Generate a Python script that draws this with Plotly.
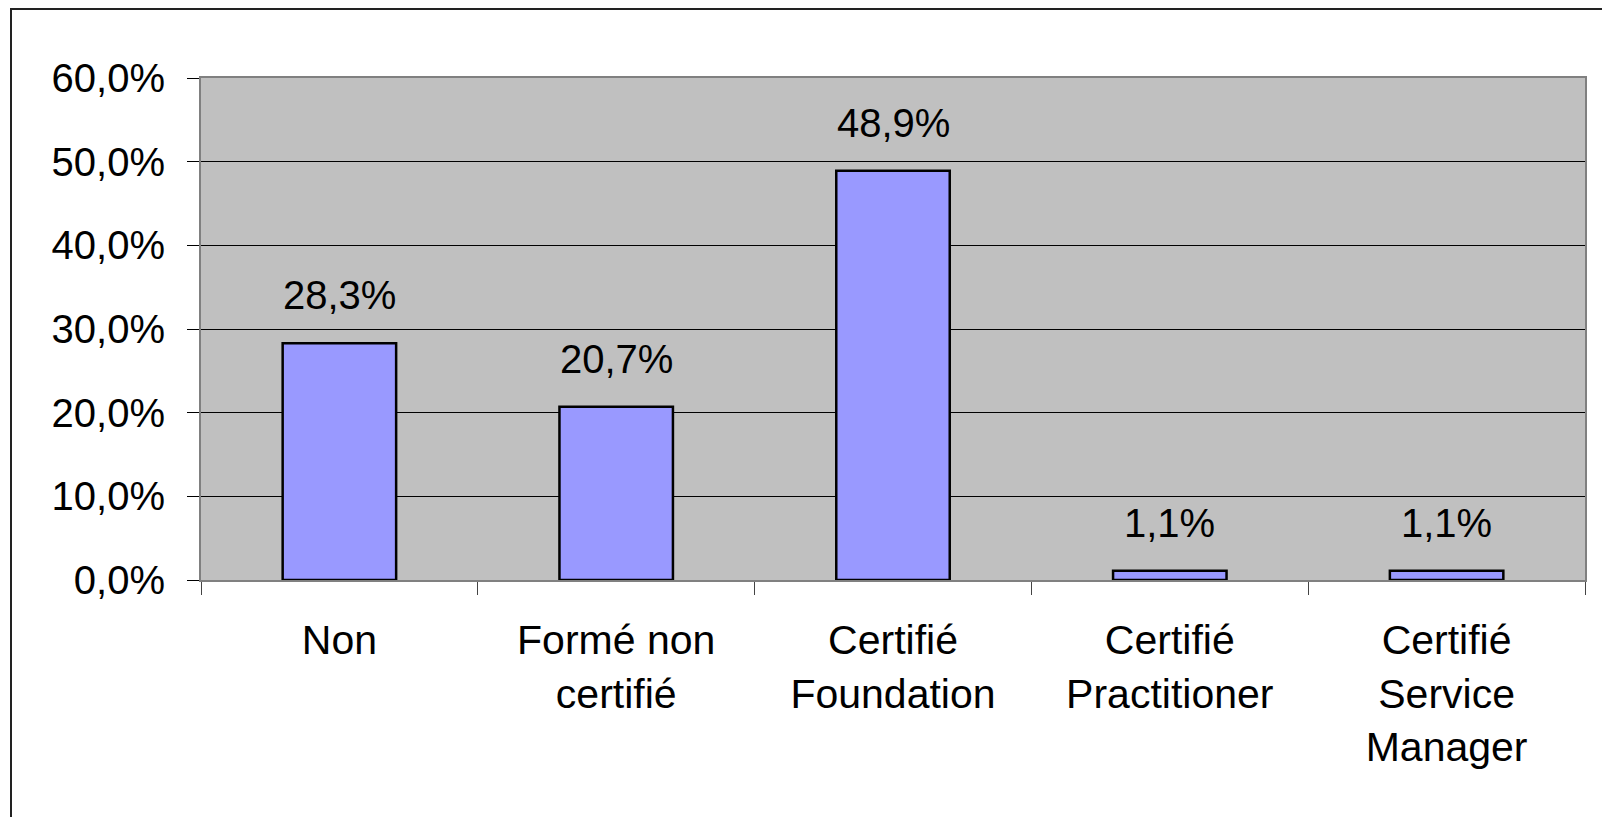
import plotly.graph_objects as go

# data
categories = ['Non', 'Formé non<br>certifié', 'Certifié<br>Foundation',
              'Certifié<br>Practitioner', 'Certifié<br>Service<br>Manager']
shares = [28.3, 20.7, 48.9, 1.1, 1.1]
y_ticks = [0, 10, 20, 30, 40, 50, 60]
y_tick_labels = [f'{v:.1f}%'.replace('.', ',') for v in y_ticks]

FONT = 'Liberation Sans, Arial, sans-serif'
# page body has an 8px margin, so the figure is a bit smaller than the window
W, H = 1602, 809
M_L, M_R, M_T, M_B = 193, 25, 70, 237

fig = go.Figure()
fig.add_trace(go.Bar(
    x=categories,
    y=shares,
    width=0.41,
    marker=dict(color='#9999FF', line=dict(color='black', width=2.5)),
    hoverinfo='skip',
))

# value labels above each bar
for cat, val in zip(categories, shares):
    fig.add_annotation(
        x=cat, y=val, text=f'{val:.1f}%'.replace('.', ','),
        showarrow=False, yanchor='bottom', yshift=24,
        font=dict(family=FONT, size=40, color='black'),
    )

# outer chart border (runs off the right and bottom of the picture)
pw, ph = W - M_L - M_R, H - M_T - M_B
fig.add_shape(
    type='rect', xref='paper', yref='paper',
    x0=(3 - M_L) / pw, x1=(W + 10 - M_L) / pw,
    y0=1 - (H + 10 - M_T) / ph, y1=1 + (M_T - 1) / ph,
    line=dict(color='#222222', width=2), fillcolor='rgba(0,0,0,0)', layer='below',
)

fig.update_layout(
    width=W, height=H,
    margin=dict(l=M_L, r=M_R, t=M_T, b=M_B),
    paper_bgcolor='white',
    plot_bgcolor='#C0C0C0',
    showlegend=False,
    font=dict(family=FONT, size=40, color='black'),
)
fig.update_xaxes(
    type='category',
    showline=True, linecolor='#808080', linewidth=2, mirror=True,
    ticks='outside', tickson='boundaries', ticklen=13, tickcolor='#444444', tickwidth=1,
    ticklabelstandoff=23,
    tickfont=dict(family=FONT, size=41, color='black'),
    showgrid=False,
)
fig.update_yaxes(
    range=[0, 60],
    tickvals=y_ticks, ticktext=y_tick_labels,
    showline=True, linecolor='#808080', linewidth=2, mirror=True,
    ticks='outside', ticklen=12, tickcolor='black', tickwidth=1,
    ticklabelstandoff=14,
    tickfont=dict(family=FONT, size=40, color='black'),
    showgrid=True, gridcolor='black', gridwidth=1,
    zeroline=False,
)

fig.write_html('out.html')
